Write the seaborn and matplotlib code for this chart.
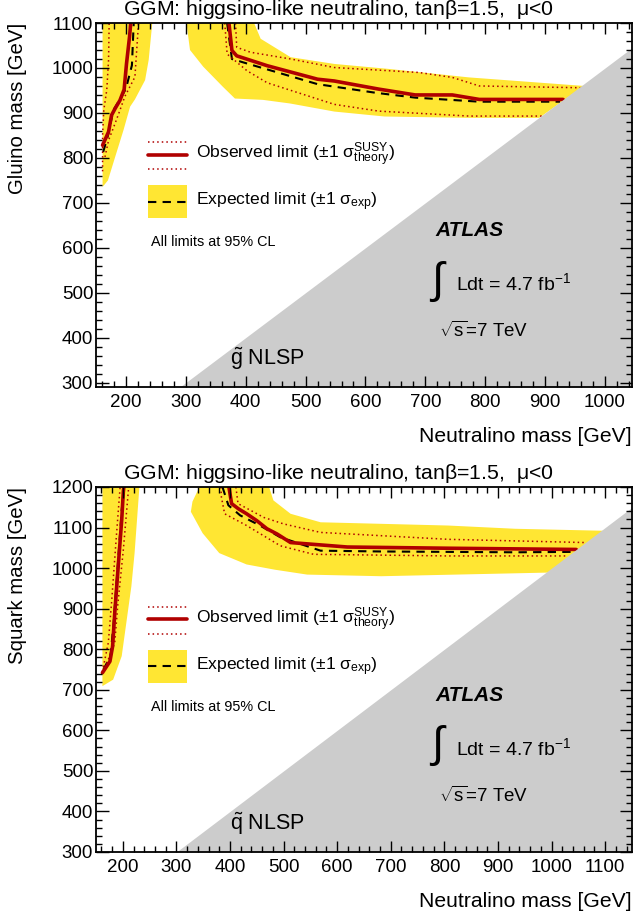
"""
GGM higgsino-like neutralino exclusion limits (gluino and squark planes)
"""

import matplotlib
matplotlib.use("Agg")
import matplotlib.pyplot as plt
import seaborn as sns
from matplotlib.ticker import MultipleLocator

# ---- gluino panel ----
glu_obs_left_x = [161, 171, 176, 182, 190, 197, 201, 206, 208]
glu_obs_left_y = [828, 858, 895, 910, 928, 952, 1010, 1069, 1100]
glu_exp_left_x = [162, 170, 179, 190, 200, 210, 213]
glu_exp_left_y = [813, 850, 906, 930, 954, 1006, 1100]
glu_up_left_x = [161, 161, 163, 168, 171, 172]
glu_up_left_y = [770, 850, 906, 951, 1018, 1100]
glu_dn_left_x = [165, 171, 182, 190, 198, 215, 221]
glu_dn_left_y = [802, 839, 877, 906, 936, 980, 1100]
glu_band_left_x = [161, 161, 244, 238, 232, 215, 207, 196, 182, 170, 161]
glu_band_left_y = [735, 1100, 1100, 1018, 973, 930, 914, 862, 802, 750, 735]

glu_obs_right_x = [372, 377, 385, 436, 520, 548, 622, 683, 745, 790, 930]
glu_obs_right_y = [1100, 1039, 1027, 1005, 975, 971, 953, 940, 940, 930, 930]
glu_exp_right_x = [369, 377, 397, 520, 616, 683, 790, 925]
glu_exp_right_y = [1100, 1020, 1012, 964, 945, 934, 925, 925]
glu_up_right_x = [383, 385, 408, 475, 548, 689, 745, 790, 959]
glu_up_right_y = [1100, 1046, 1035, 1020, 1001, 990, 979, 960, 956]
glu_dn_right_x = [365, 369, 402, 436, 548, 622, 773, 897]
glu_dn_right_y = [1100, 1031, 994, 967, 919, 904, 893, 893]
glu_band_right_x = [414, 425, 475, 548, 638, 773, 965, 890, 773, 632, 548, 474,
                    429, 382, 362, 329, 307, 301]
glu_band_right_y = [1100, 1065, 1024, 1009, 998, 979, 960, 889, 889, 892, 903, 921,
                    929, 932, 958, 1003, 1040, 1100]

# ---- squark panel ----
sq_obs_left_x = [162, 176, 181, 185, 191, 198, 201, 202]
sq_obs_left_y = [742, 770, 807, 889, 996, 1119, 1188, 1200]
sq_exp_left_x = [164, 177, 183, 191, 198, 202]
sq_exp_left_y = [750, 783, 865, 1012, 1143, 1200]
sq_up_left_x = [162, 173, 179, 188, 195]
sq_up_left_y = [745, 816, 914, 1078, 1200]
sq_dn_left_x = [167, 185, 191, 201, 211]
sq_dn_left_y = [754, 816, 914, 1045, 1200]
sq_band_left_x = [162, 162, 231, 222, 216, 198, 182, 162]
sq_band_left_y = [709, 1200, 1200, 1037, 955, 783, 725, 709]

sq_obs_right_x = [398, 403, 416, 431, 450, 469, 488, 513, 619, 807, 1046]
sq_obs_right_y = [1200, 1159, 1146, 1134, 1117, 1097, 1084, 1063, 1052, 1049, 1046]
sq_exp_right_x = [386, 397, 419, 456, 494, 569, 682, 932, 1040]
sq_exp_right_y = [1200, 1155, 1130, 1105, 1076, 1043, 1041, 1039, 1040]
sq_up_right_x = [411, 415, 463, 500, 569, 807, 1063]
sq_up_right_y = [1200, 1159, 1125, 1109, 1088, 1071, 1063]
sq_dn_right_x = [383, 384, 390, 431, 494, 556, 807, 1030]
sq_dn_right_y = [1200, 1175, 1134, 1105, 1055, 1034, 1030, 1030]
sq_band_right_x = [473, 481, 513, 569, 807, 932, 1100, 995, 682, 544, 484, 431,
                   380, 349, 327, 330, 343]
sq_band_right_y = [1200, 1167, 1134, 1113, 1105, 1097, 1092, 989, 980, 984, 996, 1009,
                   1037, 1086, 1139, 1164, 1200]

TITLE = r"GGM: higgsino-like neutralino, tan$\mathrm{\beta}$=1.5,  $\mathrm{\mu}$<0"
YELLOW = "#ffe633"
RED = "#b00000"

sns.set_style("ticks")
plt.rcParams["font.family"] = ["Liberation Sans", "DejaVu Sans"]
plt.rcParams["mathtext.fontset"] = "custom"
plt.rcParams["mathtext.rm"] = "Liberation Sans"
plt.rcParams["mathtext.it"] = "Liberation Sans:italic"
plt.rcParams["mathtext.bf"] = "Liberation Sans:bold"
for key in ["text.color", "axes.labelcolor", "xtick.color", "ytick.color",
            "axes.edgecolor"]:
    plt.rcParams[key] = "black"


def draw_panel(ax, d, xlim, ylim, ylabel, nlsp):
    ax.set_xlim(*xlim)
    ax.set_ylim(*ylim)
    # expected +-1 sigma bands
    ax.fill(d["band_left_x"], d["band_left_y"], color=YELLOW, lw=0, zorder=1)
    ax.fill(d["band_right_x"], d["band_right_y"], color=YELLOW, lw=0, zorder=1)
    for side in ["left", "right"]:
        sns.lineplot(x=d["exp_%s_x" % side], y=d["exp_%s_y" % side], sort=False,
                     estimator=None, ax=ax, color="black", lw=1.5,
                     linestyle=(0, (4, 3)), zorder=3)
        for k in ["up", "dn"]:
            sns.lineplot(x=d["%s_%s_x" % (k, side)], y=d["%s_%s_y" % (k, side)],
                         sort=False, estimator=None, ax=ax, color=RED, lw=1.1,
                         linestyle=(0, (1, 2)), zorder=3)
        sns.lineplot(x=d["obs_%s_x" % side], y=d["obs_%s_y" % side], sort=False,
                     estimator=None, ax=ax, color=RED, lw=2.6, zorder=4)
    # kinematically forbidden region (neutralino heavier than NLSP)
    diag = [xlim[0], xlim[1]]
    ax.fill_between(diag, [ylim[0], ylim[0]], diag, color="#cccccc", lw=0, zorder=5)

    ax.xaxis.set_major_locator(MultipleLocator(100))
    ax.xaxis.set_minor_locator(MultipleLocator(20))
    ax.yaxis.set_major_locator(MultipleLocator(100))
    ax.yaxis.set_minor_locator(MultipleLocator(20))
    ax.tick_params(which="both", direction="in", top=True, right=True,
                   labelsize=13.5, width=1.0, colors="black")
    ax.tick_params(axis="x", which="major", length=8, pad=5)
    ax.tick_params(axis="y", which="major", length=9, pad=2)
    ax.tick_params(which="minor", length=4.5)
    ax.xaxis.set_zorder(10)
    ax.yaxis.set_zorder(10)
    for s in ax.spines.values():
        s.set_linewidth(1.3)
        s.set_zorder(11)
    ax.set_xlabel("")
    ax.set_ylabel("")

    t = ax.transAxes
    ax.text(0.453, 1.036, TITLE, transform=t, ha="center", va="center", fontsize=15.3)
    ax.text(1.0, -0.135, "Neutralino mass [GeV]", transform=t, ha="right",
            va="center", fontsize=15.2)
    ax.text(-0.147, 1.0, ylabel, transform=t, rotation=90, ha="center", va="top",
            fontsize=14.7)

    # legend glyphs
    lx = [0.097, 0.170]
    ax.plot(lx, [0.672, 0.672], transform=t, color=RED, lw=1.1, ls=(0, (1, 2)), zorder=6)
    ax.plot(lx, [0.637, 0.637], transform=t, color=RED, lw=2.6, zorder=6)
    ax.plot(lx, [0.598, 0.598], transform=t, color=RED, lw=1.1, ls=(0, (1, 2)), zorder=6)
    ax.fill([lx[0], lx[1], lx[1], lx[0]], [0.464, 0.464, 0.554, 0.554], transform=t,
            color=YELLOW, lw=0, zorder=6)
    ax.plot(lx, [0.509, 0.509], transform=t, color="black", lw=1.5,
            ls=(0, (4, 3)), zorder=7)
    ax.text(0.187, 0.637,
            r"Observed limit ($\pm$1 $\mathrm{\sigma}^{\rm SUSY}_{\rm theory}$)",
            transform=t, va="center", fontsize=12.6, zorder=7)
    ax.text(0.187, 0.509, r"Expected limit ($\pm$1 $\mathrm{\sigma}_{\rm exp}$)",
            transform=t, va="center", fontsize=12.6, zorder=7)
    ax.text(0.103, 0.398, "All limits at 95% CL", transform=t, va="center",
            fontsize=10.4, zorder=7)

    ax.text(0.634, 0.43, "ATLAS", transform=t, va="center", fontsize=15,
            fontweight="bold", fontstyle="italic", zorder=7)
    ax.text(0.622, 0.29, r"$\int$", transform=t, va="center", fontsize=32, zorder=7)
    ax.text(0.672, 0.285, r"Ldt = 4.7 fb$^{-1}$", transform=t, va="center",
            fontsize=14, zorder=7)
    ax.text(0.64, 0.155, r"$\sqrt{\rm s}$=7 TeV", transform=t, va="center",
            fontsize=13.5, zorder=7)
    ax.text(0.25, 0.076, nlsp, transform=t, va="center", fontsize=15.5, zorder=7)


glu = dict(band_left_x=glu_band_left_x, band_left_y=glu_band_left_y,
           band_right_x=glu_band_right_x, band_right_y=glu_band_right_y,
           obs_left_x=glu_obs_left_x, obs_left_y=glu_obs_left_y,
           obs_right_x=glu_obs_right_x, obs_right_y=glu_obs_right_y,
           exp_left_x=glu_exp_left_x, exp_left_y=glu_exp_left_y,
           exp_right_x=glu_exp_right_x, exp_right_y=glu_exp_right_y,
           up_left_x=glu_up_left_x, up_left_y=glu_up_left_y,
           up_right_x=glu_up_right_x, up_right_y=glu_up_right_y,
           dn_left_x=glu_dn_left_x, dn_left_y=glu_dn_left_y,
           dn_right_x=glu_dn_right_x, dn_right_y=glu_dn_right_y)
sq = dict(band_left_x=sq_band_left_x, band_left_y=sq_band_left_y,
          band_right_x=sq_band_right_x, band_right_y=sq_band_right_y,
          obs_left_x=sq_obs_left_x, obs_left_y=sq_obs_left_y,
          obs_right_x=sq_obs_right_x, obs_right_y=sq_obs_right_y,
          exp_left_x=sq_exp_left_x, exp_left_y=sq_exp_left_y,
          exp_right_x=sq_exp_right_x, exp_right_y=sq_exp_right_y,
          up_left_x=sq_up_left_x, up_left_y=sq_up_left_y,
          up_right_x=sq_up_right_x, up_right_y=sq_up_right_y,
          dn_left_x=sq_dn_left_x, dn_left_y=sq_dn_left_y,
          dn_right_x=sq_dn_right_x, dn_right_y=sq_dn_right_y)

fig = plt.figure(figsize=(6.34, 9.18), dpi=100)
ax1 = fig.add_axes([0.1514, 0.5784, 0.8454, 0.3965])
ax2 = fig.add_axes([0.1514, 0.0719, 0.8454, 0.3976])

draw_panel(ax1, glu, (150, 1045), (290, 1100), "Gluino mass [GeV]",
           r"$\tilde{\rm g}$ NLSP")
draw_panel(ax2, sq, (150, 1150), (300, 1200), "Squark mass [GeV]",
           r"$\tilde{\rm q}$ NLSP")

fig.savefig("out.png", dpi=100)
